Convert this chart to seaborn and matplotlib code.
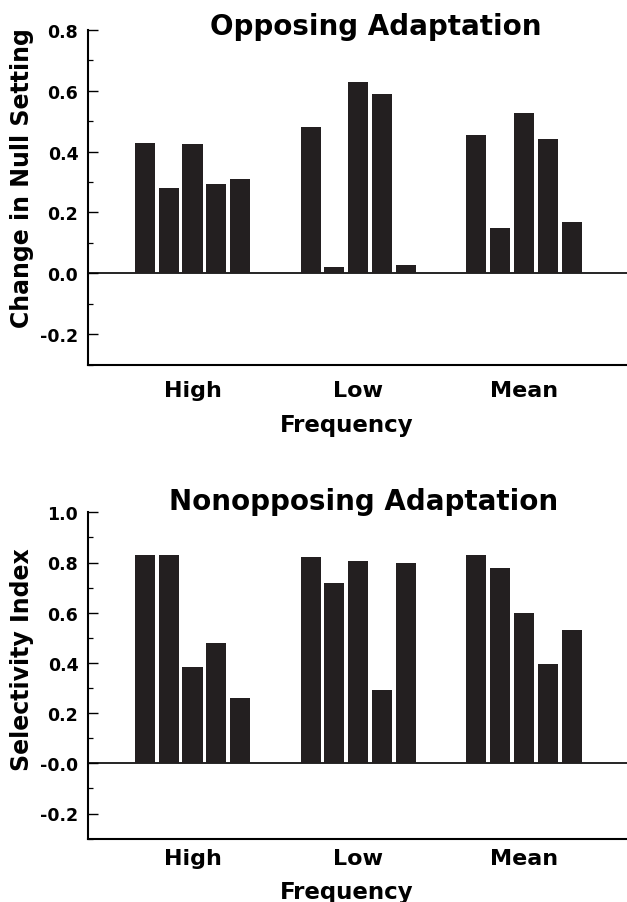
import matplotlib
matplotlib.use("Agg")
import matplotlib.pyplot as plt
from matplotlib.ticker import FixedLocator, FixedFormatter, MultipleLocator
import pandas as pd
import seaborn as sns

# ---- data -------------------------------------------------------------
frequencies = ["High", "Low", "Mean"]
observers = ["S1", "S2", "S3", "S4", "S5"]

opposing_high = [0.43, 0.28, 0.425, 0.295, 0.31]
opposing_low = [0.48, 0.022, 0.63, 0.59, 0.028]
opposing_mean = [0.455, 0.15, 0.527, 0.44, 0.17]

nonopposing_high = [0.83, 0.83, 0.385, 0.48, 0.26]
nonopposing_low = [0.82, 0.717, 0.807, 0.293, 0.80]
nonopposing_mean = [0.828, 0.78, 0.597, 0.395, 0.532]

top_ticks = [-0.2, 0.0, 0.2, 0.4, 0.6, 0.8]
top_ticklabels = ["-0.2", "0.0", "0.2", "0.4", "0.6", "0.8"]
bottom_ticks = [-0.2, 0.0, 0.2, 0.4, 0.6, 0.8, 1.0]
bottom_ticklabels = ["-0.2", "-0.0", "0.2", "0.4", "0.6", "0.8", "1.0"]

top_title = "Opposing Adaptation"
bottom_title = "Nonopposing Adaptation"
top_ylabel = "Change in Null Setting"
bottom_ylabel = "Selectivity Index"
xlabel = "Frequency"


def long_table(high, low, mean):
    rows = []
    for freq, vals in zip(frequencies, (high, low, mean)):
        for obs, v in zip(observers, vals):
            rows.append({"frequency": freq, "observer": obs, "value": v})
    return pd.DataFrame(rows)


df_top = long_table(opposing_high, opposing_low, opposing_mean)
df_bottom = long_table(nonopposing_high, nonopposing_low, nonopposing_mean)

# ---- style ------------------------------------------------------------
sns.set_style("white")
plt.rcParams["font.family"] = ["DejaVu Sans"]
plt.rcParams["font.weight"] = "bold"
for key in ("text.color", "axes.labelcolor", "xtick.color", "ytick.color",
            "axes.edgecolor"):
    plt.rcParams[key] = "black"

BAR = "#231f20"
W, H = 627, 903
fig = plt.figure(figsize=(W / 100, H / 100), dpi=100)


def px_box(left, top, right, bottom):
    return [left / W, 1 - bottom / H, (right - left) / W, (bottom - top) / H]


def draw_panel(ax, df, ylim, ticks, ticklabels, tick_pad_x, label_y):
    sns.barplot(data=df, x="frequency", y="value", hue="observer",
                order=frequencies, hue_order=observers,
                palette=[BAR] * len(observers), saturation=1,
                width=0.72, gap=0.16, errorbar=None, legend=False,
                linewidth=0, ax=ax)
    ax.axhline(0, color="black", lw=1.2, zorder=0.5)
    ax.set_xlim(-0.63, 2.62)
    ax.set_ylim(*ylim)
    sns.despine(ax=ax)
    for side in ("left", "bottom"):
        ax.spines[side].set_linewidth(1.5)
        ax.spines[side].set_color("black")

    ax.yaxis.set_major_locator(FixedLocator(ticks))
    ax.yaxis.set_major_formatter(FixedFormatter(ticklabels))
    ax.yaxis.set_minor_locator(MultipleLocator(0.1))
    ax.tick_params(axis="y", which="major", direction="in", length=7,
                   width=1.0, pad=7, labelsize=12.5, left=True,
                   color="black", labelcolor="black")
    ax.tick_params(axis="y", which="minor", direction="in", length=3.5,
                   width=0.9, left=True, color="black")
    ax.tick_params(axis="x", length=0, pad=tick_pad_x, labelsize=16,
                   labelcolor="black")
    for t in ax.get_yticklabels() + ax.get_xticklabels():
        t.set_fontweight("bold")
    ax.set_ylabel("")
    ax.set_xlabel(xlabel, fontsize=16.5, fontweight="bold", va="baseline",
                  color="black")
    ax.xaxis.set_label_coords(0.48, label_y)


ax_top = fig.add_axes(px_box(88, 31, 627, 365.5))
draw_panel(ax_top, df_top, (-0.3, 0.8), top_ticks, top_ticklabels,
           tick_pad_x=11, label_y=(365.5 - 431.7) / (365.5 - 31))

ax_bot = fig.add_axes(px_box(88, 513.3, 627, 839.6))
draw_panel(ax_bot, df_bottom, (-0.3, 1.0), bottom_ticks, bottom_ticklabels,
           tick_pad_x=7, label_y=(839.6 - 899) / (839.6 - 513.3))

# titles and y labels
fig.text(375.5 / W, 1 - 35 / H, top_title, ha="center", va="baseline",
         fontsize=20, fontweight="bold", color="black")
fig.text(363.5 / W, 1 - 509.5 / H, bottom_title, ha="center", va="baseline",
         fontsize=20, fontweight="bold", color="black")
fig.text(22 / W, 1 - 178 / H, top_ylabel, rotation=90, ha="center",
         va="center", fontsize=17, fontweight="bold", color="black")
fig.text(22 / W, 1 - 660 / H, bottom_ylabel, rotation=90, ha="center",
         va="center", fontsize=17, fontweight="bold", color="black")

fig.savefig("out.png", dpi=100, facecolor="white")
